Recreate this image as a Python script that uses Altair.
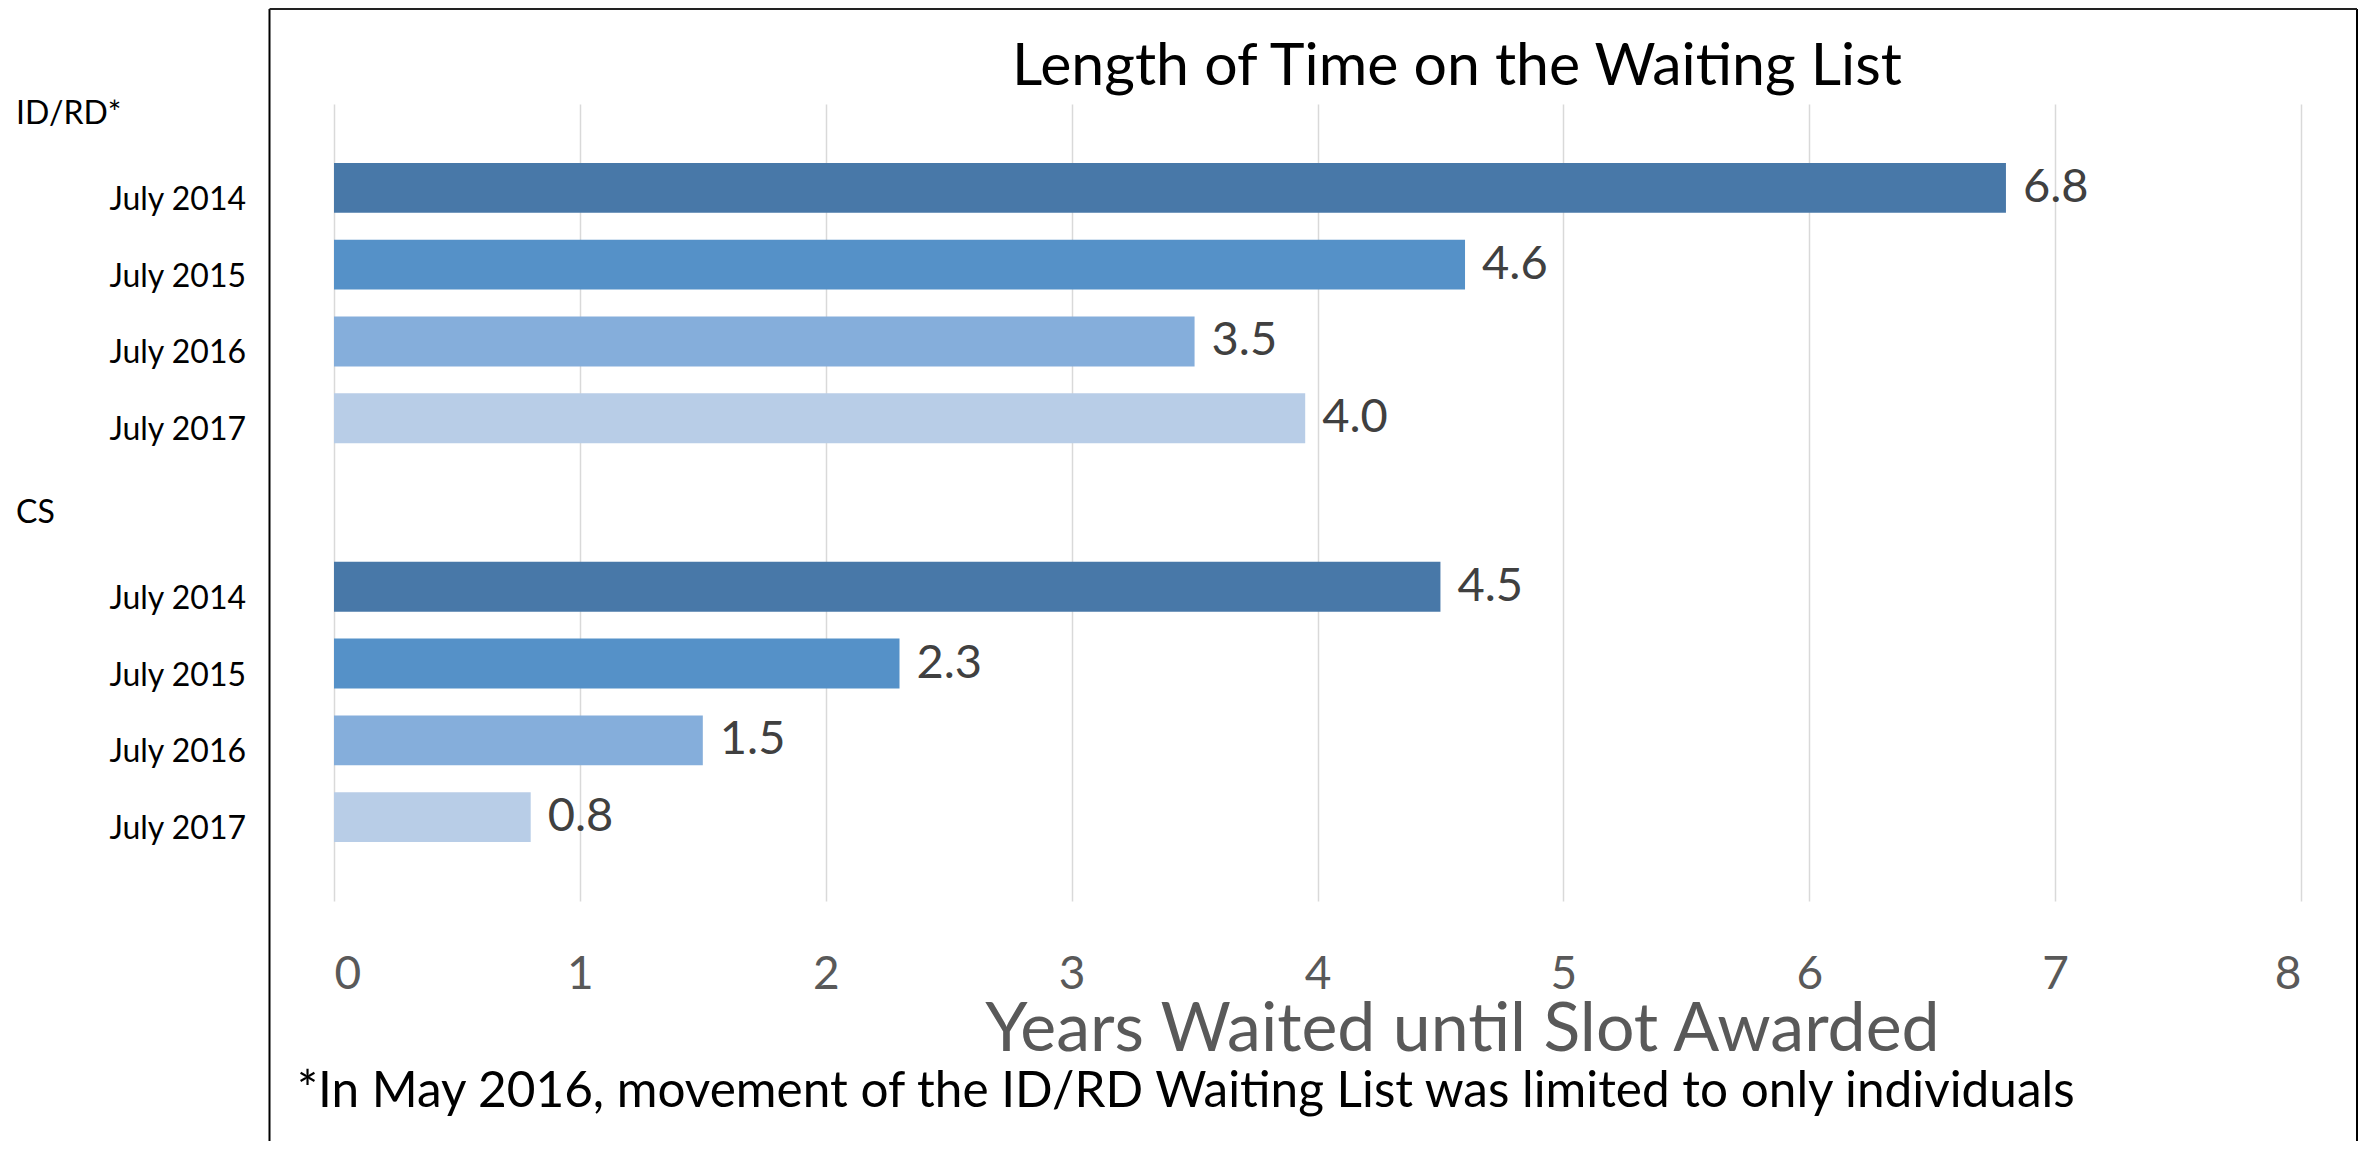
import altair as alt
import pandas as pd

# ---- data ----
group_names = ["ID/RD*", "CS"]
periods = ["July 2014", "July 2015", "July 2016", "July 2017"]
groups = ["ID/RD*"] * 4 + ["CS"] * 4
period_col = periods * 2
years = [6.8, 4.6, 3.5, 3.95, 4.5, 2.3, 1.5, 0.8]
x_ticks = [0, 1, 2, 3, 4, 5, 6, 7, 8]
colors = ["#4878A8", "#5591C8", "#85AEDB", "#B8CDE7"]

title_text = "Length of Time on the Waiting List"
x_title = "Years Waited until Slot Awarded"
footnote = "*In May 2016, movement of the ID/RD Waiting List was limited to only individuals"

df = pd.DataFrame({"group": groups, "period": period_col, "years": years})
hdr = pd.DataFrame({"group": group_names})
note = pd.DataFrame({"note": [footnote]})
ttl = pd.DataFrame({"t": [title_text]})
frame = pd.DataFrame({"k": [0]})

FONT = "Lato"
W, H = 1967, 797

yscale = alt.Scale(domain=group_names, paddingInner=0.23, paddingOuter=0.114)
yoscale = alt.Scale(domain=periods, paddingInner=0.35, paddingOuter=0.175)

base = alt.Chart(df)

bars = base.mark_bar().encode(
    x=alt.X("years:Q",
            scale=alt.Scale(domain=[0, 8], nice=False),
            axis=alt.Axis(values=x_ticks, grid=True, gridColor="#D9D9D9", gridWidth=1.5,
                          domain=False, ticks=False, tickSize=0,
                          labelFont=FONT, labelFontSize=46, labelColor="#595959",
                          labelBaseline="alphabetic", labelPadding=87,
                          title=x_title, titleFont=FONT, titleFontSize=68,
                          titleFontWeight="normal", titleColor="#595959",
                          titleX=1128, titleY=149, titleAlign="center",
                          titleBaseline="alphabetic", format="d")),
    y=alt.Y("group:N", scale=yscale, axis=None),
    yOffset=alt.YOffset("period:N", scale=yoscale),
    color=alt.Color("period:N", scale=alt.Scale(domain=periods, range=colors), legend=None),
)

values = base.mark_text(align="left", baseline="middle", dx=17, font=FONT,
                        fontSize=47, color="#404040").encode(
    x="years:Q",
    y=alt.Y("group:N", scale=yscale, axis=None),
    yOffset=alt.YOffset("period:N", scale=yoscale),
    text=alt.Text("years:Q", format=".1f"),
)

period_labels = base.mark_text(align="right", baseline="alphabetic", dy=22, font=FONT,
                               fontSize=32, color="#000000").encode(
    x=alt.value(-88),
    y=alt.Y("group:N", scale=yscale, axis=None),
    yOffset=alt.YOffset("period:N", scale=yoscale),
    text="period:N",
)

headers = alt.Chart(hdr).mark_text(align="left", baseline="alphabetic", dy=-25, font=FONT,
                                   fontSize=32, color="#000000").encode(
    x=alt.value(-318),
    y=alt.Y("group:N", scale=yscale, axis=None, bandPosition=0),
    text="group:N",
)

title_mark = alt.Chart(ttl).mark_text(align="center", baseline="alphabetic", font=FONT,
                                      fontSize=59, color="#000000").encode(
    x=alt.value(1123), y=alt.value(-19), text="t:N")

foot = alt.Chart(note).mark_text(align="left", baseline="alphabetic", font=FONT,
                                 fontSize=49.5, color="#000000").encode(
    x=alt.value(-37),
    y=alt.value(1003),
    text="note:N",
)

left_border = alt.Chart(frame).mark_rule(color="#000000", strokeWidth=2).encode(
    x=alt.value(-64.5), y=alt.value(-95), y2=alt.value(1100))
right_border = alt.Chart(frame).mark_rule(color="#000000", strokeWidth=2).encode(
    x=alt.value(2023), y=alt.value(-95), y2=alt.value(1100))
top_border = alt.Chart(frame).mark_rule(color="#222222", strokeWidth=2).encode(
    x=alt.value(-64.5), x2=alt.value(2023), y=alt.value(-95))

chart = alt.layer(left_border, right_border, top_border, bars, values, period_labels,
                  headers, title_mark, foot).properties(
    width=W, height=H,
    background="white",
    autosize=alt.AutoSizeParams(type="none"),
    padding={"left": 326, "top": 96, "right": 58, "bottom": 240},
).configure_view(strokeWidth=0, stroke="transparent")

chart.save("out.html", embed_options={"renderer": "svg", "actions": False})
